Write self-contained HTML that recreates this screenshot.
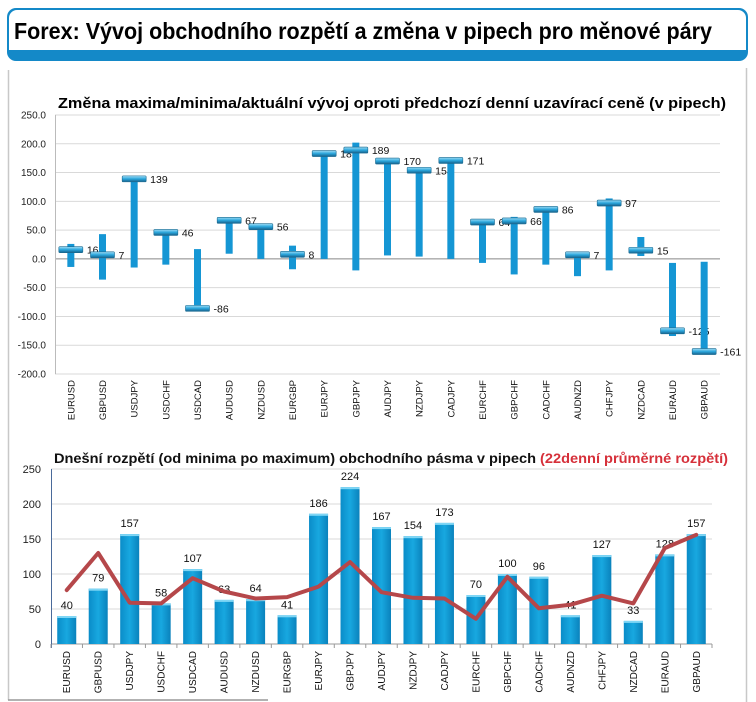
<!DOCTYPE html>
<html><head><meta charset="utf-8"><style>
html,body{margin:0;padding:0;background:#fff;width:756px;height:702px;overflow:hidden}
svg{display:block;font-family:"Liberation Sans",sans-serif}
</style></head><body>
<svg id="svg" width="756" height="702" viewBox="0 0 756 702">
<defs>
<linearGradient id="cap" x1="0" y1="0" x2="0" y2="1">
<stop offset="0" stop-color="#9fdcf5"/><stop offset="0.5" stop-color="#2aa6dc"/><stop offset="1" stop-color="#17608a"/></linearGradient>
<linearGradient id="barg" x1="0" y1="0" x2="1" y2="0">
<stop offset="0" stop-color="#0a8cc8"/><stop offset="0.5" stop-color="#18a8e0"/><stop offset="1" stop-color="#0a82bc"/></linearGradient>
</defs>
<g>
<rect x="7" y="8" width="741" height="53" rx="9" fill="#1489c8"/>
<path d="M9 50 V18 a8 8 0 0 1 8 -8 H738 a8 8 0 0 1 8 8 V50 Z" fill="#fff"/>
<text x="14" y="39" font-size="23" font-weight="bold" fill="#000" textLength="698" lengthAdjust="spacingAndGlyphs">Forex: Vývoj obchodního rozpětí a změna v pipech pro měnové páry</text>
</g>
<g>
<line x1="8.5" y1="70" x2="8.5" y2="700" stroke="#c8c8c8" stroke-width="1.5"/>
<line x1="746.5" y1="68" x2="746.5" y2="702" stroke="#c8c8c8" stroke-width="1.5"/>
<line x1="8" y1="700" x2="268" y2="700" stroke="#999" stroke-width="1.5"/>
</g>
<g id="topchart"></g>
<g id="botchart"></g>
</svg>
<script>
const pairs=["EURUSD","GBPUSD","USDJPY","USDCHF","USDCAD","AUDUSD","NZDUSD","EURGBP","EURJPY","GBPJPY","AUDJPY","NZDJPY","CADJPY","EURCHF","GBPCHF","CADCHF","AUDNZD","CHFJPY","NZDCAD","EURAUD","GBPAUD"];
const current=[16,7,139,46,-86,67,56,8,183,189,170,154,171,64,66,86,7,97,15,-125,-161];
const highs=[26,43,139,46,17,67,60,23,183,202,170,154,171,64,73,86,7,105,38,-7,-5];
const lows=[-14,-36,-15,-10,-86,9,0,-18,0,-20,6,4,0,-7,-27,-10,-30,-20,5,-134,-161];
const topTicks=[250,200,150,100,50,0,-50,-100,-150,-200];
const todayRange=[40,79,157,58,107,63,64,41,186,224,167,154,173,70,100,96,41,127,33,128,157];
const avgRange=[77,130,59,58,94,75,65,67,82,117,74,66,65,36,96,51,56,69,58,137,156];
const botTicks=[0,50,100,150,200,250];

const NS="http://www.w3.org/2000/svg";
function mk(parent,tag,attrs,text){const e=document.createElementNS(NS,tag);for(const k in attrs)e.setAttribute(k,attrs[k]);if(text!==undefined)e.textContent=text;parent.appendChild(e);return e;}

// ---- top chart ----
const topG=document.getElementById('topchart');
const tL=55,tR=720,tTop=115,tBot=374,tMax=250,tMin=-200;
const ty=v=>tTop+(tMax-v)*(tBot-tTop)/(tMax-tMin);
const tStep=(tR-tL)/pairs.length;
const tx=i=>tL+tStep*(i+0.5);
let t=mk(topG,'text',{x:392,y:108,'font-size':15,'font-weight':'bold','text-anchor':'middle',textLength:668,lengthAdjust:'spacingAndGlyphs'},'Změna maxima/minima/aktuální vývoj oproti předchozí denní uzavírací ceně (v pipech)');


topTicks.forEach(v=>{
  const g=mk(topG,'line',{x1:tL,x2:tR,y1:ty(v),y2:ty(v),stroke:v===0?'#888':'#d9d9d9','stroke-width':1});
  
  
  const l=mk(topG,'text',{x:46,y:ty(v)+3.5,'font-size':10,'text-anchor':'end',fill:'#222'},v.toFixed(1));
  
  
});
let ax=mk(topG,'line',{x1:tL+0.5,x2:tL+0.5,y1:tTop,y2:tBot,stroke:'#bbb'});


pairs.forEach((p,i)=>{
  const x=tx(i);
  const b=mk(topG,'rect',{x:x-3.5,y:ty(highs[i]),width:7,height:ty(lows[i])-ty(highs[i]),fill:'#1596d4'});
  
  
  const c=mk(topG,'rect',{x:x-12,y:ty(current[i])-3,width:24,height:6,rx:1,fill:'url(#cap)',stroke:'#1a6a90','stroke-width':0.6});
  
  
  const v=mk(topG,'text',{x:x+16,y:ty(current[i])+4,'font-size':10.5,fill:'#111'},String(current[i]));
  
  
  const xl=mk(topG,'text',{transform:`translate(${x+3.5},${380}) rotate(-90)`,'font-size':9.5,'text-anchor':'end',fill:'#111'},p);
  
  
});

// ---- bottom chart ----
const botG=document.getElementById('botchart');
const bL=51,bR=712,bTop=469,bBot=644,bMax=250;
const by=v=>bBot-v*(bBot-bTop)/bMax;
const bStep=(bR-bL)/pairs.length;
const bx=i=>bL+bStep*(i+0.5);
t=mk(botG,'text',{x:54,y:463,'font-size':14,'font-weight':'bold',fill:'#111'});


t.setAttribute('textLength','674');t.setAttribute('lengthAdjust','spacingAndGlyphs');
mk(t,'tspan',{},'Dnešní rozpětí (od minima po maximum) obchodního pásma v pipech ');
mk(t,'tspan',{fill:'#d6303a'},'(22denní průměrné rozpětí)');
botTicks.forEach(v=>{
  const g=mk(botG,'line',{x1:bL,x2:bR,y1:by(v),y2:by(v),stroke:v===0?'#999':'#d9d9d9'});
  
  
  const l=mk(botG,'text',{x:41,y:by(v)+4,'font-size':11,'text-anchor':'end',fill:'#222'},String(v));
  
  
});
ax=mk(botG,'line',{x1:bL+0.5,x2:bL+0.5,y1:bTop,y2:bBot+4,stroke:'#4a6a9a'});


for(let i=0;i<=pairs.length;i++){
  const tk=mk(botG,'line',{x1:bL+bStep*i,x2:bL+bStep*i,y1:bBot,y2:bBot+4,stroke:'#999'});
  
  
}
pairs.forEach((p,i)=>{
  const x=bx(i);
  const b=mk(botG,'rect',{x:x-9.5,y:by(todayRange[i]),width:19,height:bBot-by(todayRange[i]),fill:'url(#barg)'});
  
  
  const hl=mk(botG,'rect',{x:x-9.5,y:by(todayRange[i]),width:19,height:2,fill:'#7fd6f5'});
  
  
  const v=mk(botG,'text',{x:x,y:by(todayRange[i])-7,'font-size':11,'text-anchor':'middle',fill:'#111'},String(todayRange[i]));
  
  
  const xl=mk(botG,'text',{transform:`translate(${x+3.5},${651}) rotate(-90)`,'font-size':10,'text-anchor':'end',fill:'#111'},p);
  
  
});
const pts=avgRange.map((v,i)=>bx(i)+','+by(v)).join(' ');
const line=mk(botG,'polyline',{points:pts,fill:'none',stroke:'#b5474a','stroke-width':4,'stroke-linejoin':'round','stroke-linecap':'round'});


</script>
</body></html>
